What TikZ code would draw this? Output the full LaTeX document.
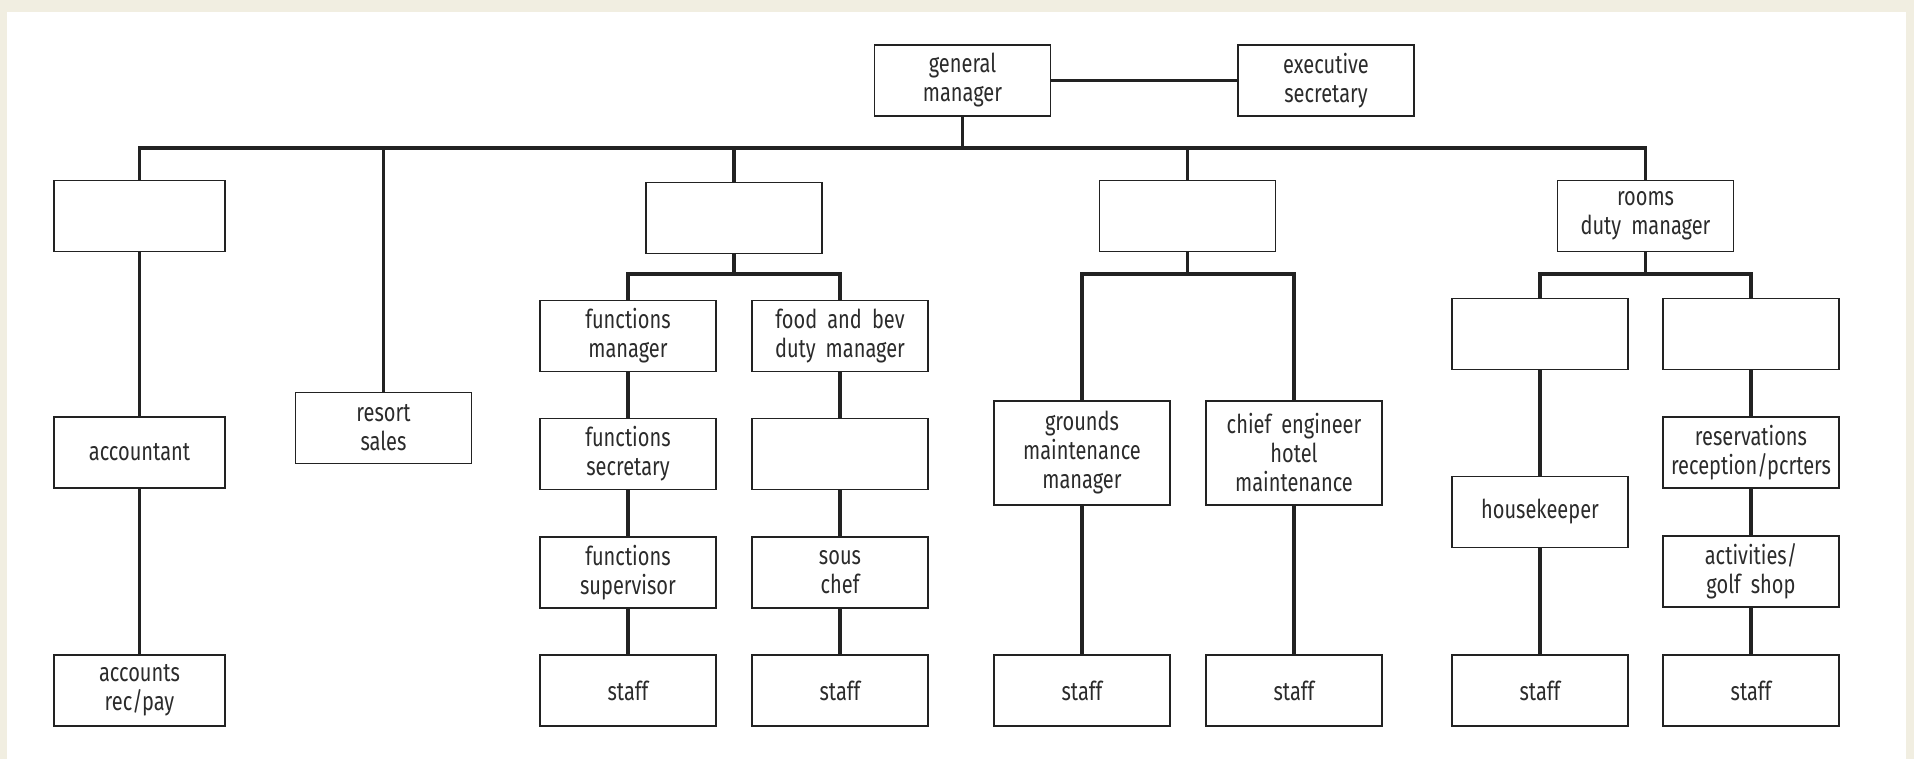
\documentclass[tikz,border=0pt]{standalone}
\usepackage{fontspec}
\setmainfont[FakeStretch=0.77,WordSpace=1.9]{Fira Sans}
\definecolor{beige}{HTML}{F1EEE1}
\definecolor{ink}{HTML}{222222}
\definecolor{txt}{HTML}{2B2B2B}
\begin{document}
\begin{tikzpicture}[x=1pt,y=-1pt,
  box/.style={draw=ink, line width=1.8pt, minimum width=176pt, minimum height=71pt,
    inner sep=0pt, align=center, text=txt, font=\fontsize{26}{29}\selectfont},
  tallbox/.style={box, minimum height=104pt},
  narrowbox/.style={box, minimum width=171pt},
  conn/.style={draw=ink, line width=3.2pt}]
\useasboundingbox (0,0) rectangle (1914,759);
\fill[beige] (0,0) rectangle (1914,759);
\fill[white] (7,12) rectangle (1906,759);
% top
\node[box] (gm) at (962.5,80.5) {general\\manager};
\node[box] (exec) at (1326,80.5) {executive\\secretary};
% level 2
\node[narrowbox] (acc0) at (139.5,216) {};
\node[box] (sales) at (383.5,428) {resort\\sales};
\node[box] (fb) at (734,218) {};
\node[box] (mnt) at (1187.5,216) {};
\node[box] (rooms) at (1645.5,216) {rooms\\duty manager};
% accounts column
\node[narrowbox] (acct) at (139.5,452.5) {accountant};
\node[narrowbox] (recpay) at (139.5,690.5) {accounts\\rec/pay};
% functions column
\node[box] (fm) at (628,336) {functions\\manager};
\node[box] (fs) at (628,454) {functions\\secretary};
\node[box] (fsup) at (628,572.5) {functions\\supervisor};
\node[box] (fstaff) at (628,690.5) {staff};
% food and bev column
\node[box] (fbdm) at (840,336) {food and bev\\duty manager};
\node[box] (fbx) at (840,454) {};
\node[box] (sous) at (840,572.5) {sous\\chef};
\node[box] (fbstaff) at (840,690.5) {staff};
% maintenance columns
\node[tallbox] (grounds) at (1082,453) {grounds\\maintenance\\manager};
\node[box] (gstaff) at (1082,690.5) {staff};
\node[tallbox] (chief) at (1294,453) {chief engineer\\hotel\\maintenance};
\node[box] (cstaff) at (1294,690.5) {staff};
% rooms columns
\node[box] (hk0) at (1540,334) {};
\node[box] (hk) at (1540,512) {housekeeper};
\node[box] (hstaff) at (1540,690.5) {staff};
\node[box] (fo0) at (1751,334) {};
\node[box] (res) at (1751,452.5) {reservations\\reception/pcrters};
\node[box] (act) at (1751,571.5) {activities/\\golf shop};
\node[box] (astaff) at (1751,690.5) {staff};
% bus levels
\coordinate (bus) at (0,148);
\coordinate (sub) at (0,274);
% connectors
\draw[conn] (gm.east) -- (exec.west);
\draw[conn] (gm.south) -- (gm.south |- bus);
\draw[conn] (acc0.north) |- (rooms.north |- bus) -- (rooms.north);
\draw[conn] (sales.north) -- (sales.north |- bus);
\draw[conn] (fb.north) -- (fb.north |- bus);
\draw[conn] (mnt.north) -- (mnt.north |- bus);
\draw[conn] (acc0.south) -- (acct.north);
\draw[conn] (acct.south) -- (recpay.north);
% F&B branch
\draw[conn] (fb.south) -- (fb.south |- sub);
\draw[conn] (fm.north) |- (fbdm.north |- sub) -- (fbdm.north);
\draw[conn] (fm.south) -- (fs.north);
\draw[conn] (fs.south) -- (fsup.north);
\draw[conn] (fsup.south) -- (fstaff.north);
\draw[conn] (fbdm.south) -- (fbx.north);
\draw[conn] (fbx.south) -- (sous.north);
\draw[conn] (sous.south) -- (fbstaff.north);
% maintenance branch
\draw[conn] (mnt.south) -- (mnt.south |- sub);
\draw[conn] (grounds.north) |- (chief.north |- sub) -- (chief.north);
\draw[conn] (grounds.south) -- (gstaff.north);
\draw[conn] (chief.south) -- (cstaff.north);
% rooms branch
\draw[conn] (rooms.south) -- (rooms.south |- sub);
\draw[conn] (hk0.north) |- (fo0.north |- sub) -- (fo0.north);
\draw[conn] (hk0.south) -- (hk.north);
\draw[conn] (hk.south) -- (hstaff.north);
\draw[conn] (fo0.south) -- (res.north);
\draw[conn] (res.south) -- (act.north);
\draw[conn] (act.south) -- (astaff.north);
\end{tikzpicture}
\end{document}
